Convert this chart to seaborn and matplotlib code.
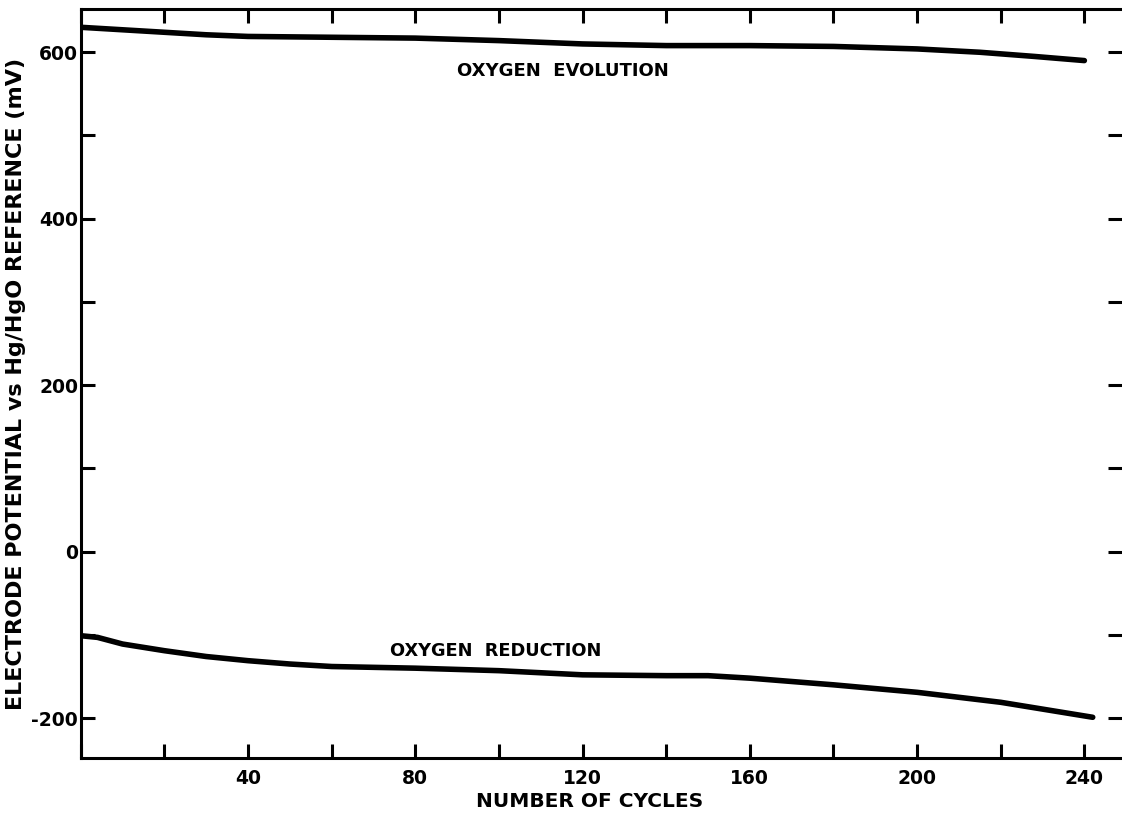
import numpy as np
import pandas as pd
import matplotlib
matplotlib.use('Agg')
import matplotlib.pyplot as plt
from matplotlib.ticker import MultipleLocator
import seaborn as sns

# Values
evolution_cycles = [0, 10, 20, 30, 40, 60, 80, 100, 120, 140, 160, 180, 200, 215, 228, 240]
evolution_mv = [630, 627, 624, 621, 619, 618, 617, 614, 610, 608, 608, 607, 604, 600, 595, 590]

reduction_cycles = [0, 4, 10, 20, 30, 40, 50, 60, 80, 100, 120, 140, 150, 160, 180, 200, 220, 242]
reduction_mv = [-101, -103, -111, -119, -126, -131, -135, -138, -140, -143, -148, -149, -149, -152, -160, -169, -181, -199]

x_ticks = [40, 80, 120, 160, 200, 240]
y_ticks = [-200, 0, 200, 400, 600]

evolution = pd.DataFrame({'Cycles': evolution_cycles, 'Potential': evolution_mv})
reduction = pd.DataFrame({'Cycles': reduction_cycles, 'Potential': reduction_mv})

sns.set_style('ticks')
plt.rcParams['font.family'] = ['DejaVu Sans']
plt.rcParams['font.weight'] = 'bold'
plt.rcParams['axes.unicode_minus'] = False
plt.rcParams['text.color'] = 'black'
plt.rcParams['axes.labelcolor'] = 'black'
plt.rcParams['axes.edgecolor'] = 'black'
plt.rcParams['xtick.color'] = 'black'
plt.rcParams['ytick.color'] = 'black'

fig = plt.figure(figsize=(11.22, 8.16), dpi=100)
ax = fig.add_axes([0.072, 0.071, 0.928, 0.918])

line_kw = dict(color='black', linewidth=4, solid_capstyle='round', solid_joinstyle='round')
sns.lineplot(data=evolution, x='Cycles', y='Potential', ax=ax, **line_kw)
sns.lineplot(data=reduction, x='Cycles', y='Potential', ax=ax, **line_kw)

ax.text(90, 578, 'OXYGEN  EVOLUTION', fontsize=13, fontweight='bold', va='center')
ax.text(74, -119, 'OXYGEN  REDUCTION', fontsize=12.8, fontweight='bold', va='center')

ax.set_xlim(0, 249)
ax.set_ylim(-248, 652)
ax.set_xticks(x_ticks)
ax.set_yticks(y_ticks)
ax.xaxis.set_minor_locator(MultipleLocator(20))
ax.yaxis.set_minor_locator(MultipleLocator(100))

ax.spines['right'].set_visible(False)
for side in ['left', 'top', 'bottom']:
    ax.spines[side].set_linewidth(2.2)

ax.tick_params(which='both', direction='in', length=10, width=2.2,
               top=True, right=True, labelsize=13.5)
ax.tick_params(axis='x', pad=8)
ax.tick_params(axis='y', pad=2)

ax.set_xlabel('NUMBER OF CYCLES', fontsize=14.5, fontweight='bold')
ax.xaxis.set_label_coords(0.489, -0.045)
ax.set_ylabel('ELECTRODE POTENTIAL vs Hg/HgO REFERENCE (mV)', fontsize=16,
              fontweight='bold', labelpad=4)

fig.savefig('out.png', dpi=100)
